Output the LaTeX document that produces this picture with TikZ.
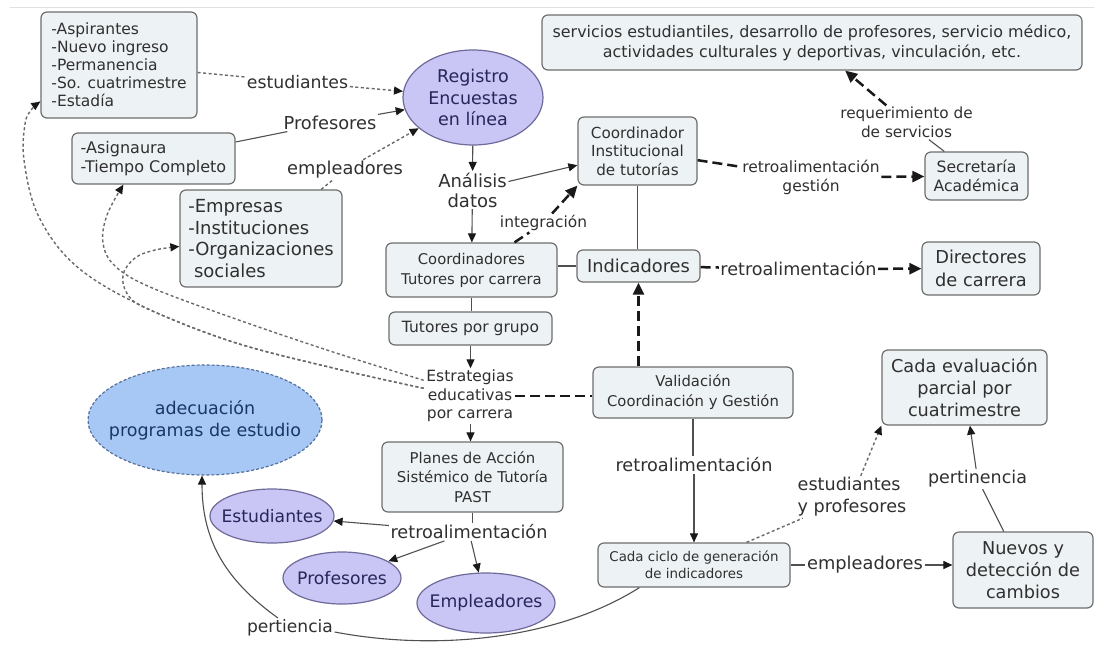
\documentclass[tikz,border=0pt]{standalone}
\usepackage{fontspec}
\setmainfont{DejaVu Sans}
\usetikzlibrary{shapes.geometric,arrows.meta,calc}
\newcommand\fsz[2]{\fontsize{#1pt}{#2pt}\selectfont}

\definecolor{boxfill}{HTML}{EDF2F4}
\definecolor{boxline}{HTML}{6E6E6E}
\definecolor{txt}{HTML}{303030}
\definecolor{lilac}{HTML}{C9C5F5}
\definecolor{lilacline}{HTML}{6E6A9A}
\definecolor{navy}{HTML}{26265A}
\definecolor{skyfill}{HTML}{A7C8F5}
\definecolor{skyline}{HTML}{55709A}
\definecolor{skytext}{HTML}{1A3666}
\definecolor{wire}{HTML}{505050}
\definecolor{dotc}{HTML}{6A6A6A}

\tikzset{
  concept/.style={draw=boxline, fill=boxfill, line width=1.2pt, rounded corners=6pt,
    inner sep=0pt, align=center, text=txt},
  blob/.style={ellipse, draw=lilacline, fill=lilac, line width=1.2pt, inner sep=0pt},
  blobtext/.style={text=navy, align=center},
  phrase/.style={inner sep=1.5pt, text=txt, align=center},
  wireline/.style={draw=wire, line width=1.1pt},
  dotwire/.style={draw=dotc, line width=1.4pt, dash pattern=on 3pt off 2.5pt},
  heavy/.style={draw=black!90, line width=2.5pt, dash pattern=on 10pt off 5pt},
  headA/.style={-{Triangle[length=9pt,width=8pt,color=black!90]}},
  headB/.style={-{Triangle[length=12pt,width=11pt,color=black!90]}},
}

\begin{document}
\begin{tikzpicture}[x=1pt,y=-1pt]
\fill[white] (0,0) rectangle (1094,645);
\useasboundingbox (0,0) rectangle (1094,645);
\draw[black!12, line width=1pt] (10,7) -- (1094,7);

% concepts
\node[concept, minimum width=156, minimum height=106, align=left, font=\fsz{15.5}{18}] (alum) at (119,65)
  {-Aspirantes\\-Nuevo ingreso\\-Permanencia\\-So. cuatrimestre\\-Estadía};
\node[concept, minimum width=163, minimum height=51, align=left, font=\fsz{16}{19}] (prof) at (153.5,158.5)
  {-Asignaura\\-Tiempo Completo};
\node[concept, minimum width=162, minimum height=97, align=left, font=\fsz{18}{21.7}] (emp) at (261,238.5)
  {-Empresas\\-Instituciones\\-Organizaciones\\~sociales};
\node[blob, minimum width=140, minimum height=95,
  label={[blobtext, font=\fsz{17.5}{21.5}]center:Registro\\Encuestas\\en línea}] (reg) at (473,97.5) {};
\node[concept, minimum width=540, minimum height=55, font=\fsz{15.9}{20}] (serv) at (812,42.5)
  {servicios estudiantiles, desarrollo de profesores, servicio médico,\\actividades culturales y deportivas, vinculación, etc.};
\node[concept, minimum width=119, minimum height=68, font=\fsz{15.2}{18.5}] (coord) at (637.5,151)
  {Coordinador\\Institucional\\de tutorías};
\node[concept, minimum width=103, minimum height=48, font=\fsz{15.6}{19}] (sec) at (976.5,176)
  {Secretaría\\Académica};
\node[concept, minimum width=171, minimum height=54, font=\fsz{14.8}{20}] (ctc) at (471.5,270)
  {Coordinadores\\Tutores por carrera};
\node[concept, minimum width=123, minimum height=32, font=\fsz{17.8}{21}] (ind) at (638.5,266)
  {Indicadores};
\node[concept, minimum width=118, minimum height=53, font=\fsz{17.8}{23}] (dir) at (981,268.5)
  {Directores\\de carrera};
\node[concept, minimum width=163, minimum height=33, font=\fsz{15.5}{19}] (tpg) at (470.5,328.5)
  {Tutores por grupo};
\node[concept, minimum width=200, minimum height=51, font=\fsz{14.8}{20}] (val) at (693,392.5)
  {Validación\\Coordinación y Gestión};
\node[concept, minimum width=165, minimum height=75, font=\fsz{17.7}{21.7}] (eval) at (964.5,387.5)
  {Cada evaluación\\parcial por\\cuatrimestre};
\node[blob, draw=skyline, fill=skyfill, dash pattern=on 3pt off 2pt, minimum width=234, minimum height=110,
  label={[text=skytext, align=center, font=\fsz{17.5}{22}]center:adecuación\\programas de estudio}] (adec) at (205,420) {};
\node[concept, minimum width=181, minimum height=70, font=\fsz{14.9}{19.5}] (planes) at (472.5,477)
  {Planes de Acción\\Sistémico de Tutoría\\PAST};
\node[blob, minimum width=124, minimum height=54,
  label={[blobtext, font=\fsz{17.2}{20}]center:Estudiantes}] (estu) at (272,516) {};
\node[blob, minimum width=118, minimum height=52,
  label={[blobtext, font=\fsz{17.2}{20}]center:Profesores}] (profe) at (342,578) {};
\node[blob, minimum width=138, minimum height=60,
  label={[blobtext, font=\fsz{17.3}{20}]center:Empleadores}] (emple) at (486,603) {};
\node[concept, minimum width=192, minimum height=44, font=\fsz{13.4}{17}] (ciclo) at (694,565)
  {Cada ciclo de generación\\de indicadores};
\node[concept, minimum width=140, minimum height=76, font=\fsz{17.7}{22}] (nuevos) at (1023,570)
  {Nuevos y\\detección de\\cambios};

% linking phrases
\node[phrase, font=\fsz{17.3}{20}] (lest) at (297.5,82) {estudiantes};
\node[phrase, font=\fsz{17.8}{20}] (lprof) at (330,123) {Profesores};
\node[phrase, font=\fsz{17.8}{20}] (lemp) at (345,170) {empleadores};
\node[phrase, font=\fsz{18}{20}] (lanal) at (472.5,190) {Análisis\\datos};
\node[phrase, font=\fsz{15.4}{18}] (linteg) at (543.5,223) {integración};
\node[phrase, font=\fsz{15.5}{19}] (lretg) at (811,177.5) {retroalimentación\\gestión};
\node[phrase, font=\fsz{15.3}{19}] (lreq) at (906.5,122.5) {requerimiento de\\de servicios};
\node[phrase, font=\fsz{17.6}{20}] (lretd) at (798.5,269) {retroalimentación};
\node[phrase, font=\fsz{15.5}{18.5}] (lestr) at (470,396) {Estrategias\\educativas\\por carrera};
\node[phrase, font=\fsz{17.7}{20}] (lretv) at (694,465) {retroalimentación};
\node[phrase, font=\fsz{17.7}{20}] (lretp) at (469,532) {retroalimentación};
\node[phrase, align=left, font=\fsz{17.6}{22}] (leyp) at (852,497) {estudiantes\\y profesores};
\node[phrase, font=\fsz{17.5}{20}] (lpert) at (977.5,479) {pertinencia};
\node[phrase, font=\fsz{17.8}{20}] (lempl) at (865,565) {empleadores};
\node[phrase, font=\fsz{17.1}{20}] (lpertie) at (290,628) {pertiencia};

% survey inputs
\draw[dotwire] (alum) -- (lest);
\draw[dotwire, headA] (lest) -- (reg);
\draw[wireline] (prof) -- (lprof);
\draw[wireline, headA] (lprof) -- (reg);
\draw[dotwire] (emp) -- (lemp);
\draw[dotwire, headA] (lemp) -- (reg);

% analysis and coordination
\draw[wireline, headA] (reg) -- (lanal);
\draw[wireline, headA] (lanal) -- (coord);
\draw[wireline, headA] (lanal) -- (ctc);
\draw[heavy] ($(ctc.north)+(43,0)$) -- (linteg);
\draw[heavy, headB] (linteg) -- (coord.south west);
\draw[heavy] (coord) -- (lretg);
\draw[heavy, headB] (lretg) -- (sec);
\draw[wireline] (sec) -- (lreq);
\draw[heavy, headB] (lreq) -- (serv);
\draw[wireline] (coord.south) -- (coord.south |- ind.north);
\draw[wireline] (ind.west) -- (ind.west -| ctc.east);
\draw[heavy] (ind) -- (lretd);
\draw[heavy, headB] (lretd) -- (dir);
\draw[heavy, headB] (val.north -| ind) -- (ind.south);

% tutors and strategies
\draw[wireline] (ctc.south) -- (ctc.south |- tpg.north);
\draw[wireline, headA] (tpg.south) -- (tpg.south |- lestr.north);
\draw[heavy] (lestr.east) -- (lestr.east -| val.west);
\draw[wireline, headA] (tpg.south |- lestr.south) -- (tpg.south |- planes.north);

\coordinate (sA) at ($(lestr.north west)+(-1,20)$);
\coordinate (sB) at ($(lestr.north west)+(-1,12)$);
\draw[dotwire, headA] plot[smooth, tension=0.6] coordinates
  {(sA) (333,368) (233,342) (140,305) (75,265) (38,215) (24,160) (25,124) (31,110) ($(alum.south west)+(0,-17)$)};
\draw[dotwire, headA] plot[smooth, tension=0.6] coordinates
  {(sB) (333,352) (233,318) (150,287) (115,266) (103,243) (107,215) ($(prof.south west)+(52,0)$)};
\draw[dotwire, headA] plot[smooth, tension=0.6] coordinates
  {(sA) (333,368) (233,342) (150,310) (128,295) (123,275) (135,258) (155,250) ($(emp.west)+(0,8)$)};

% action plans
\draw[wireline] (planes.south) -- (planes.south |- lretp.north);
\draw[wireline, headA] (lretp) -- (estu);
\draw[wireline, headA] (lretp) -- (profe);
\draw[wireline, headA] (lretp) -- (emple);

% indicator cycle
\draw[wireline] (val.south) -- (val.south |- lretv.north);
\draw[wireline, headA] (lretv.south) -- (lretv.south |- ciclo.north);
\draw[dotwire] (ciclo) -- (leyp);
\draw[dotwire, headA] (leyp) -- (eval.south west);
\draw[wireline] (ciclo.east |- lempl) -- (lempl.west);
\draw[wireline, headA] (lempl.east) -- (lempl.east -| nuevos.west);
\draw[wireline] (nuevos) -- (lpert);
\draw[wireline, headA] (lpert) -- (eval);
\draw[wireline] ($(ciclo.south west)+(42,0)$) .. controls (560,638) and (440,652) .. ($(lpertie.east)+(0,4)$);
\draw[wireline, headA] ($(lpertie.north)+(-12,0)$) .. controls (225,580) and (202,540) .. ($(adec.south)+(-3,0)$);
\end{tikzpicture}
\end{document}
